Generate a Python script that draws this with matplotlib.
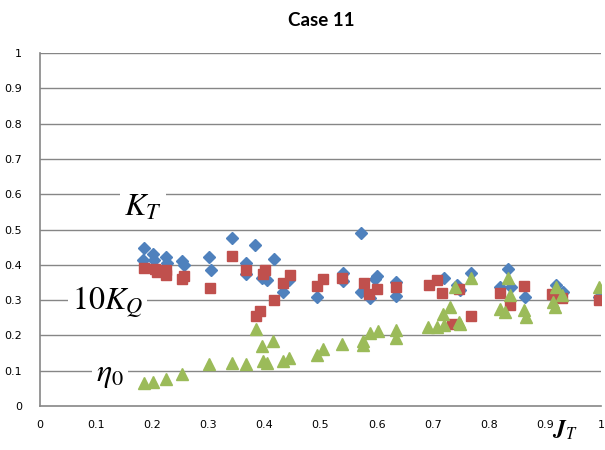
import numpy as np
import matplotlib.pyplot as plt

plt.rcParams['mathtext.fontset'] = 'stix'

# K_T (blue diamonds)
kt_x = [0.185, 0.184, 0.202, 0.204, 0.225, 0.226, 0.254, 0.256, 0.302, 0.304,
        0.343, 0.368, 0.368, 0.384, 0.395, 0.404, 0.417, 0.433, 0.444, 0.493,
        0.540, 0.540, 0.572, 0.573, 0.588, 0.597, 0.601, 0.634, 0.634, 0.720,
        0.743, 0.749, 0.768, 0.820, 0.835, 0.840, 0.865, 0.920, 0.933, 0.997]
kt_y = [0.449, 0.413, 0.430, 0.413, 0.421, 0.404, 0.412, 0.400, 0.423, 0.385,
        0.476, 0.406, 0.374, 0.457, 0.362, 0.357, 0.416, 0.322, 0.357, 0.308,
        0.376, 0.355, 0.489, 0.322, 0.306, 0.360, 0.368, 0.352, 0.312, 0.364,
        0.343, 0.329, 0.378, 0.336, 0.388, 0.336, 0.308, 0.343, 0.324, 0.310]

# 10 K_Q (red squares)
kq_x = [0.185, 0.205, 0.208, 0.225, 0.225, 0.256, 0.254, 0.303, 0.343, 0.368,
        0.401, 0.397, 0.417, 0.393, 0.385, 0.433, 0.446, 0.493, 0.505, 0.538,
        0.578, 0.600, 0.587, 0.635, 0.694, 0.707, 0.716, 0.734, 0.746, 0.768,
        0.820, 0.837, 0.863, 0.912, 0.930, 0.997]
kq_y = [0.390, 0.388, 0.380, 0.385, 0.371, 0.368, 0.359, 0.335, 0.425, 0.385,
        0.385, 0.374, 0.300, 0.270, 0.256, 0.349, 0.371, 0.340, 0.359, 0.364,
        0.349, 0.331, 0.316, 0.336, 0.343, 0.357, 0.319, 0.232, 0.331, 0.256,
        0.319, 0.286, 0.340, 0.317, 0.305, 0.300]

# eta_0 (green triangles)
eta_x = [0.185, 0.202, 0.225, 0.254, 0.302, 0.343, 0.368, 0.385, 0.395, 0.416,
         0.398, 0.404, 0.433, 0.444, 0.493, 0.505, 0.538, 0.576, 0.588, 0.602,
         0.576, 0.635, 0.635, 0.692, 0.707, 0.720, 0.719, 0.731, 0.740, 0.746,
         0.749, 0.768, 0.820, 0.829, 0.835, 0.838, 0.863, 0.866, 0.914, 0.918,
         0.920, 0.930, 0.997]
eta_y = [0.064, 0.069, 0.076, 0.090, 0.118, 0.121, 0.119, 0.218, 0.171, 0.184,
         0.127, 0.121, 0.127, 0.137, 0.144, 0.161, 0.176, 0.185, 0.206, 0.212,
         0.173, 0.215, 0.192, 0.223, 0.223, 0.229, 0.261, 0.281, 0.338, 0.239,
         0.232, 0.364, 0.274, 0.267, 0.364, 0.314, 0.272, 0.253, 0.295, 0.280,
         0.338, 0.314, 0.336]

ticks = np.arange(0, 1.01, 0.1)

fig = plt.figure(figsize=(6.05, 4.5), dpi=100)
ax = fig.add_axes([40/605, 44/450, 561/605, 353/450])

grid_c = '#868686'
for t in ticks[1:]:
    ax.axhline(t, color=grid_c, lw=1.0, zorder=0)

ax.plot(kt_x, kt_y, 'D', color='#4F81BD', ms=6, mec='#4F81BD', zorder=3)
ax.plot(kq_x, kq_y, 's', color='#C0504D', ms=7, mec='#C0504D', zorder=4)
ax.plot(eta_x, eta_y, '^', color='#9BBB59', ms=8.5, mec='#9BBB59', zorder=5)

ax.set_xlim(0, 1)
ax.set_ylim(0, 1)
ax.set_xticks(ticks)
ax.set_yticks(ticks)
ax.set_xticklabels([f'{t:g}' for t in ticks])
ax.set_yticklabels([f'{t:g}' for t in ticks])
ax.tick_params(length=0, labelsize=8, pad=10)
ax.tick_params(axis='y', pad=13)
for s in ['top', 'right']:
    ax.spines[s].set_visible(False)
for s in ['left', 'bottom']:
    ax.spines[s].set_color(grid_c)
    ax.spines[s].set_linewidth(1.2)

box = dict(facecolor='white', edgecolor='none', pad=3)
ax.text(0.184, 0.564, r'$K_T$', fontsize=23, ha='center', va='center', bbox=box, zorder=1)
ax.text(0.12, 0.292, r'$10K_Q$', fontsize=23, ha='center', va='center', bbox=box, zorder=1)
ax.text(0.125, 0.088, r'$\eta_0$', fontsize=23, ha='center', va='center', bbox=box, zorder=1)
ax.text(0.936, -0.068, r'$\mathbfit{J}_T$', fontsize=17, ha='center', va='center', clip_on=False)

fig.text(321/605, 1 - 21/450, 'Case 11', fontsize=13.5, fontweight='bold', ha='center', va='center',
         family='Lato')

fig.savefig('out.png', dpi=100)
